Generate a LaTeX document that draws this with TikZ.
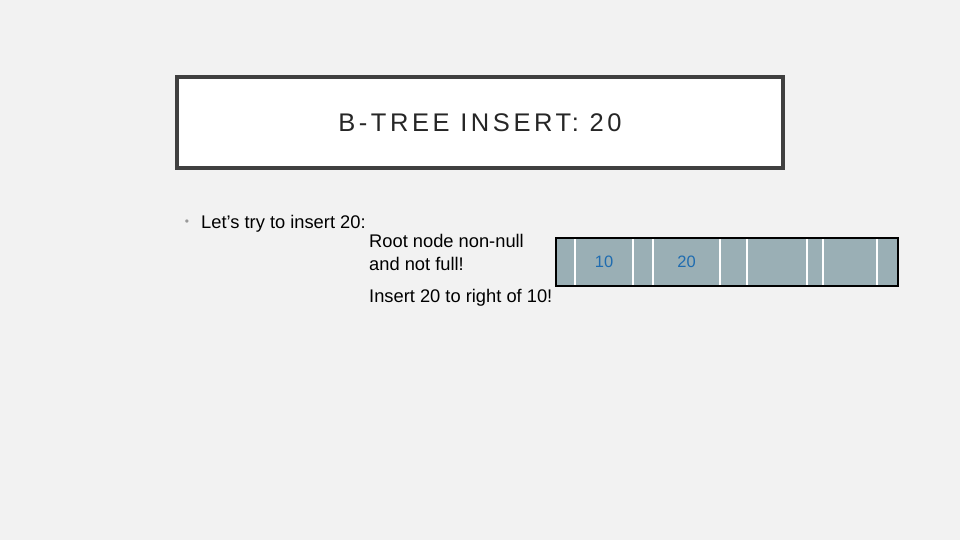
\documentclass[tikz,border=0pt]{standalone}
\usepackage{fontspec}
\setmainfont{Liberation Sans}
\newfontfamily\titlefont[LetterSpace=14]{Liberation Sans}

\definecolor{pagegray}{HTML}{F2F2F2}
\definecolor{framegray}{HTML}{404040}
\definecolor{slotgray}{HTML}{9AAFB5}
\definecolor{keyblue}{HTML}{1F6CB0}

\tikzset{
    slot/.style={
        draw=white,line width=1.5pt,
        fill=slotgray,outer sep=0pt,inner sep=0pt,
        minimum height=48pt,
        font=\fontsize{16.5}{19}\selectfont,text=keyblue
    },
    body text/.style={
        anchor=west,inner sep=0pt,align=left,
        font=\fontsize{18.3}{23}\selectfont,text=black
    }
}

\begin{document}
\begin{tikzpicture}[x=1pt,y=-1pt]
        \fill[pagegray] (0,0) rectangle (960,540);
        \node[draw=framegray,line width=4pt,fill=white,minimum width=606pt,minimum height=91pt] (title) at (480,122.5)
            {\titlefont\fontsize{25.5}{28}\selectfont\color{black!85}B-TREE INSERT: 20};
        \node[text=black!40,font=\fontsize{12}{12}\selectfont,inner sep=0pt] (bullet) at (187,223) {•};
        \node[body text] (ask) at (201,223.5) {Let’s try to insert 20:};
        \node[body text] (check) at (369,252.5) {Root node non-null\\and not full!};
        \node[body text] (action) at (369,298) {Insert 20 to right of 10!};
        \foreach \l/\r/\name/\key in {556/575/p0/,575/633/k0/10,633/653/p1/,653/720/k1/20,720/747/p2/,
                                     747/807/k2/,807/823/p3/,823/877/k3/,877/898/p4/}
            \node[slot,minimum width={(\r-\l)*1pt}] (\name) at ({(\l+\r)/2},262) {\key};
        \draw[line width=2pt] (p0.north west) rectangle (p4.south east);
    \end{tikzpicture}
\end{document}
